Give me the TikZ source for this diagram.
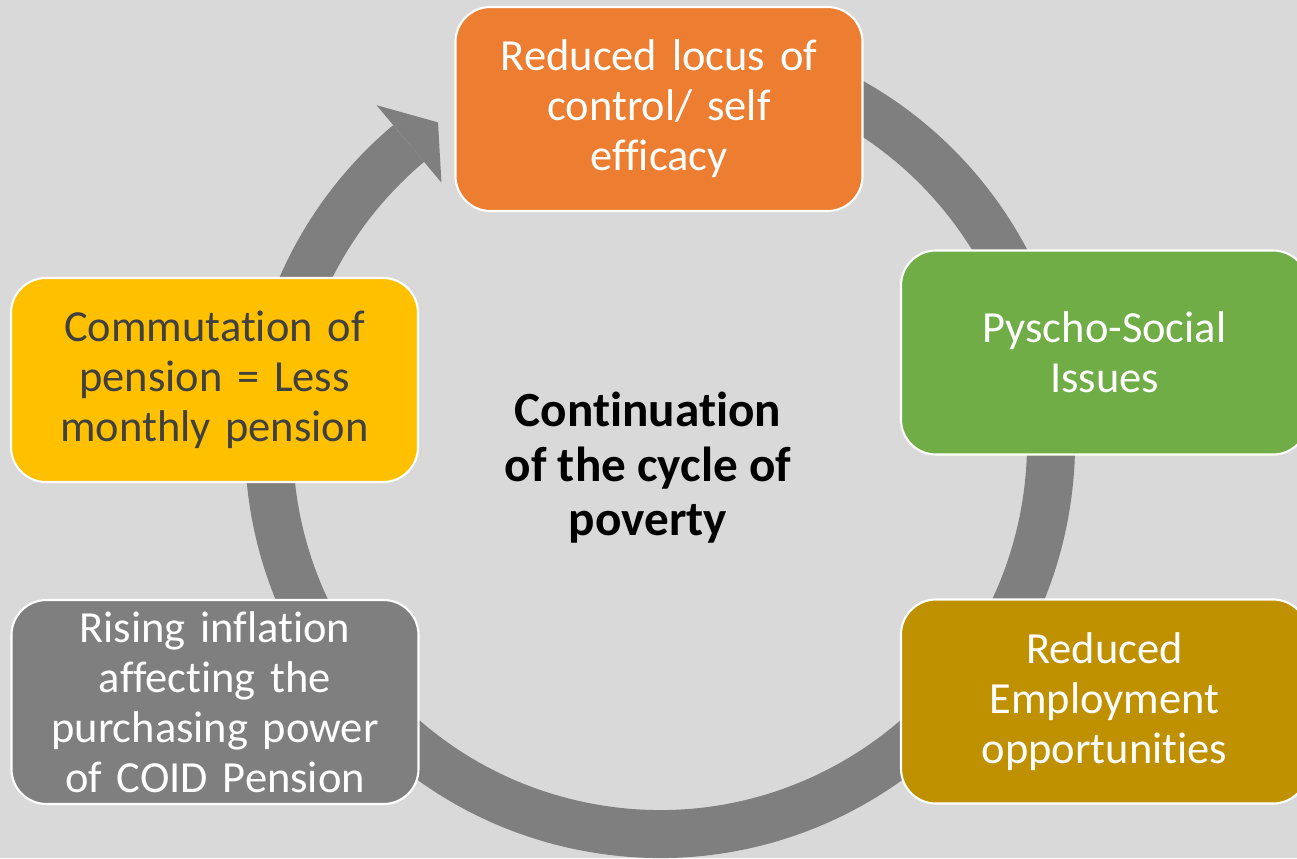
\documentclass[tikz,border=0pt]{standalone}
\usepackage{fontspec}
\setmainfont{Carlito}[Ligatures=NoCommon]
\usepackage{tikz}
\usetikzlibrary{positioning,calc}
\definecolor{bgcolor}{RGB}{217,217,217}
\definecolor{ringgray}{RGB}{127,127,127}
\definecolor{orangebox}{RGB}{237,125,49}
\definecolor{greenbox}{RGB}{112,173,71}
\definecolor{goldbox}{RGB}{191,144,0}
\definecolor{yellowbox}{RGB}{255,192,0}
\definecolor{darktext}{RGB}{64,64,64}

\begin{document}
\begin{tikzpicture}[
    stage/.style={rectangle, draw=white, line width=1.2pt, rounded corners=0.7cm, minimum width=8.14cm, minimum height=4.08cm, text width=7.8cm, align=center, text=white, font=\fontsize{25.3}{28.4}\selectfont},
    ring/.style={draw=ringgray, line width=0.96cm},
    centre/.style={align=center, font=\fontsize{28}{31}\selectfont\bfseries}
]
    \fill[bgcolor] (0,0) rectangle (25.94,-17.16);
    \useasboundingbox (0,0) rectangle (25.94,-17.16);
    \coordinate (hub) at (13.2,-8.86);

    % cycle arrow
    \draw[ring] (hub) ++(80:7.82) arc[start angle=80, end angle=-230, radius=7.82];
    \fill[ringgray] ($(hub)+(130:8.82)$) -- ($(hub)+(124.7:7.8)$) -- ($(hub)+(130:6.8)$) -- cycle;

    \node[stage, fill=orangebox] (locus) at (13.18,-2.18) {Reduced locus of\\control/ self\\efficacy};
    \node[stage, fill=greenbox] (psycho) at (22.09,-7.05) {Pyscho-Social\\Issues};
    \node[stage, fill=goldbox] (employ) at (22.09,-14.03) {Reduced\\Employment\\opportunities};
    \node[stage, fill=ringgray] (inflation) at (4.30,-14.04) {Rising inflation\\affecting the\\purchasing power\\of COID Pension};
    \node[stage, fill=yellowbox, text=darktext] (commute) at (4.29,-7.60) {Commutation of\\pension = Less\\monthly pension};

    \node[centre] (poverty) at (12.96,-9.36) {Continuation\\of the cycle of\\poverty};
\end{tikzpicture}
\end{document}
